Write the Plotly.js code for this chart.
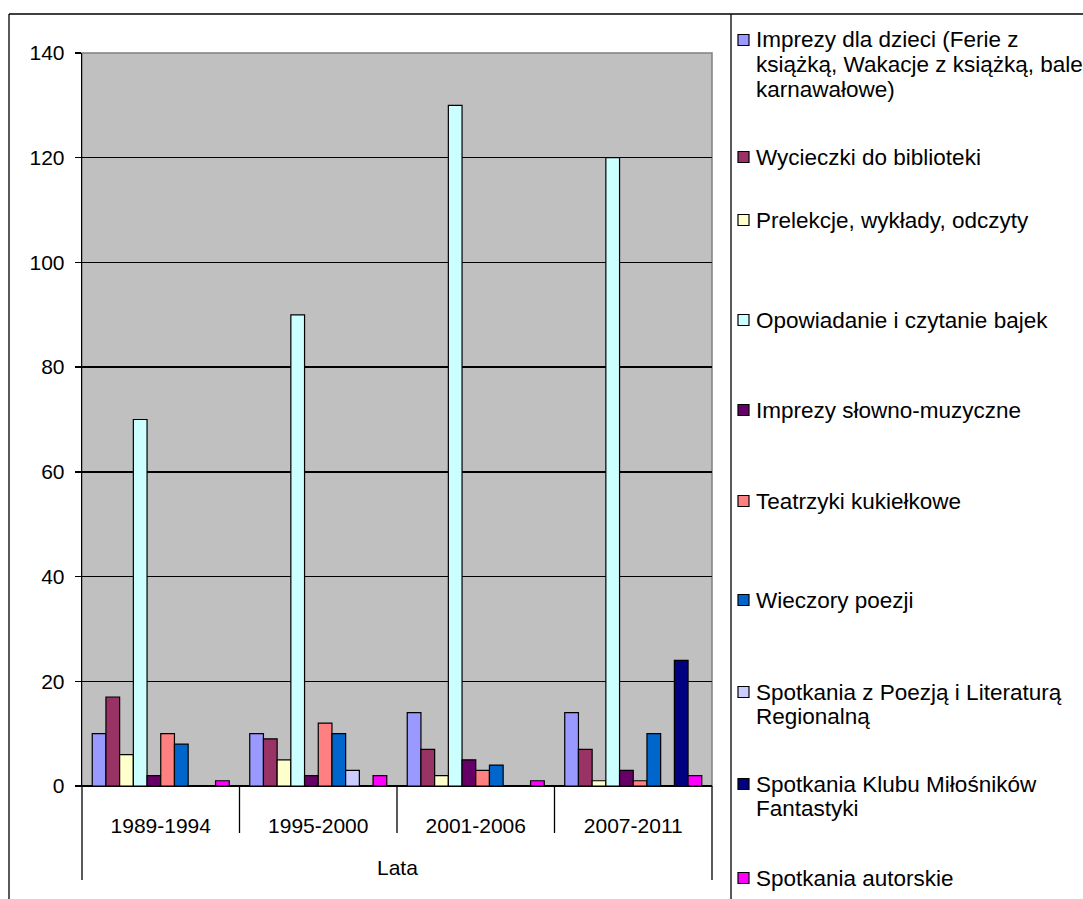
<!DOCTYPE html>
<html>
<head>
<meta charset="utf-8">
<script src="https://cdn.plot.ly/plotly-3.0.1.min.js"></script>
<style>html,body{margin:0;padding:0;background:#fff;}#chart{width:1083px;height:899px;}</style>
</head>
<body>
<div id="chart"></div>
<script>
// ---- data ----
const categories = ["1989-1994", "1995-2000", "2001-2006", "2007-2011"];
const axisGroupLabel = "Lata";
const seriesNames = [
  "Imprezy dla dzieci (Ferie z książką, Wakacje z książką, bale karnawałowe)",
  "Wycieczki do biblioteki",
  "Prelekcje, wykłady, odczyty",
  "Opowiadanie i czytanie bajek",
  "Imprezy słowno-muzyczne",
  "Teatrzyki kukiełkowe",
  "Wieczory poezji",
  "Spotkania z Poezją i Literaturą Regionalną",
  "Spotkania Klubu Miłośników Fantastyki",
  "Spotkania autorskie"
];
const legendLabelLines = [
  ["Imprezy dla dzieci (Ferie z", "książką, Wakacje z książką, bale", "karnawałowe)"],
  ["Wycieczki do biblioteki"],
  ["Prelekcje, wykłady, odczyty"],
  ["Opowiadanie i czytanie bajek"],
  ["Imprezy słowno-muzyczne"],
  ["Teatrzyki kukiełkowe"],
  ["Wieczory poezji"],
  ["Spotkania z Poezją i Literaturą", "Regionalną"],
  ["Spotkania Klubu Miłośników", "Fantastyki"],
  ["Spotkania autorskie"]
];
const imprezyDlaDzieci   = [10, 10, 14, 14];
const wycieczki          = [17, 9, 7, 7];
const prelekcje          = [6, 5, 2, 1];
const opowiadanie        = [70, 90, 130, 120];
const slownoMuzyczne     = [2, 2, 5, 3];
const teatrzyki          = [10, 12, 3, 1];
const wieczoryPoezji     = [8, 10, 4, 10];
const poezjaRegionalna   = [0, 3, 0, 0];
const klubFantastyki     = [0, 0, 0, 24];
const spotkaniaAutorskie = [1, 2, 1, 2];
const seriesValues = [imprezyDlaDzieci, wycieczki, prelekcje, opowiadanie, slownoMuzyczne,
                      teatrzyki, wieczoryPoezji, poezjaRegionalna, klubFantastyki, spotkaniaAutorskie];
const yTicks = [0, 20, 40, 60, 80, 100, 120, 140];

// ---- style ----
const colors = ["#9999FF", "#993366", "#FFFFCC", "#CCFFFF", "#660066",
                "#FF8080", "#0066CC", "#CCCCFF", "#000080", "#FF00FF"];
const FONT = "Arial, 'Liberation Sans', sans-serif";
const AXIS_FS = 21, LEG_FS = 22.5;

const W = 1083, H = 899;
const PL = 82, PR = 712, PT = 53, PB = 786;
const pw = PR - PL, ph = PB - PT;
const px = x => (x - PL) / pw;
const py = y => (PB - y) / ph;

const traces = seriesNames.map((n, i) => ({
  type: "bar",
  name: n,
  x: categories,
  y: seriesValues[i],
  marker: { color: colors[i], line: { color: "#000", width: 1.2 } },
  showlegend: false,
  hoverinfo: "x+y+name"
}));

const shapes = [];
const line = (x0, y0, x1, y1, color, w) => shapes.push({
  type: "line", xref: "paper", yref: "paper",
  x0: px(x0), y0: py(y0), x1: px(x1), y1: py(y1),
  line: { color: color || "#000", width: w || 1.3 }, layer: "above"
});
// outer border
line(9, 14, W, 14);
line(9, 14, 9, H);
// legend separator
line(731, 14, 731, H);
// plot area border (gray)
shapes.push({ type: "rect", xref: "paper", yref: "paper", x0: 0, y0: 0, x1: 1, y1: 1,
  line: { color: "#808080", width: 1.5 }, layer: "below" });
// category axis extensions
line(PL, PB, PL, 880);
line(PR, PB, PR, 880);
for (let k = 1; k < categories.length; k++) {
  const xs = PL + pw * k / categories.length;
  line(xs, PB, xs, 833);
}

const annotations = [];
// group label
annotations.push({ xref: "paper", yref: "paper", x: px((PL + PR) / 2), y: py(867),
  text: axisGroupLabel, showarrow: false, xanchor: "center", yanchor: "middle",
  font: { family: FONT, size: AXIS_FS, color: "#000" } });

// legend (manual, Excel-like spacing)
const legendFirstLineY = [40, 157, 220, 320, 410, 501, 600, 692, 784, 878];
const lineH = 24.5;
legendLabelLines.forEach((lines, i) => {
  const y0 = legendFirstLineY[i];
  shapes.push({ type: "rect", xref: "paper", yref: "paper",
    x0: px(738), x1: px(749), y0: py(y0 - 5.5), y1: py(y0 + 5.5),
    fillcolor: colors[i], line: { color: "#000", width: 1.2 }, layer: "above" });
  lines.forEach((t, j) => {
    annotations.push({ xref: "paper", yref: "paper", x: px(754), y: py(y0 + j * lineH),
      text: t, showarrow: false, xanchor: "left", yanchor: "middle",
      font: { family: FONT, size: LEG_FS, color: "#000" } });
  });
});

const layout = {
  width: W, height: H,
  margin: { l: PL, r: W - PR, t: PT, b: H - PB, pad: 0 },
  paper_bgcolor: "#fff",
  plot_bgcolor: "#C0C0C0",
  barmode: "group",
  bargap: 0.13,
  bargroupgap: 0,
  showlegend: false,
  font: { family: FONT, size: AXIS_FS, color: "#000" },
  xaxis: {
    type: "category",
    showgrid: false, zeroline: false,
    showline: true, linecolor: "#000", linewidth: 1.3,
    ticks: "", ticklabelstandoff: 20,
    tickfont: { family: FONT, size: AXIS_FS, color: "#000" },
    fixedrange: true
  },
  yaxis: {
    range: [0, 140],
    tickvals: yTicks,
    ticktext: yTicks.map(String),
    showgrid: true, gridcolor: "#000", gridwidth: 1.3,
    zeroline: true, zerolinecolor: "#000", zerolinewidth: 1.3,
    showline: true, linecolor: "#000", linewidth: 1.3,
    ticks: "outside", ticklen: 6, tickcolor: "#000", tickwidth: 1.3,
    ticklabelstandoff: 6,
    tickfont: { family: FONT, size: AXIS_FS, color: "#000" },
    fixedrange: true
  },
  shapes: shapes,
  annotations: annotations
};

Plotly.newPlot("chart", traces, layout, { displayModeBar: false, staticPlot: true });
</script>
</body>
</html>
